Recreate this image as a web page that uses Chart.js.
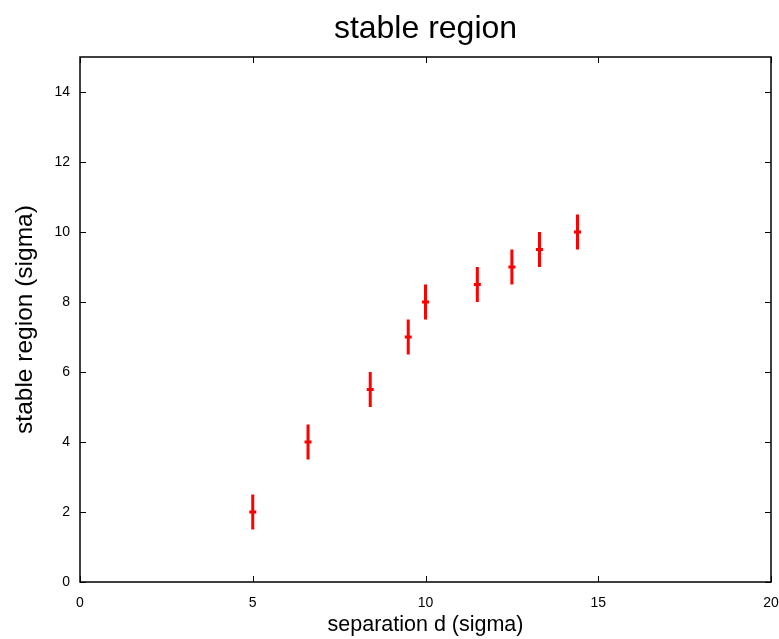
<!DOCTYPE html>
<html>
<head>
<meta charset="utf-8">
<script src="https://cdn.jsdelivr.net/npm/chart.js@4/dist/chart.umd.min.js"></script>
<style>
  html, body { margin: 0; padding: 0; background: #fff; }
  #wrap { width: 779px; height: 639px; }
</style>
</head>
<body>
<div id="wrap"><canvas id="c" width="779" height="639"></canvas></div>
<script>
// Measured stable region versus separation, with symmetric uncertainties
const separation = [5, 6.6, 8.4, 9.5, 10, 11.5, 12.5, 13.3, 14.4];
const stableRegion = [2, 4, 5.5, 7, 8, 8.5, 9, 9.5, 10];
const errorHalf = [0.5, 0.5, 0.5, 0.5, 0.5, 0.5, 0.5, 0.5, 0.5];
const xTicks = [0, 5, 10, 15, 20];
const yTicks = [0, 2, 4, 6, 8, 10, 12, 14];

const FONT = "'Liberation Sans', Arial, Helvetica, sans-serif";
const RED = '#ff0000';

// Vertical error bars, drawn under the point markers
const errorBars = {
  id: 'errorBars',
  beforeDatasetsDraw(chart) {
    const { ctx, scales: { x, y } } = chart;
    ctx.save();
    ctx.strokeStyle = RED;
    ctx.lineWidth = 3;
    for (let i = 0; i < separation.length; i++) {
      const px = x.getPixelForValue(separation[i]);
      const y1 = y.getPixelForValue(stableRegion[i] - errorHalf[i]);
      const y2 = y.getPixelForValue(stableRegion[i] + errorHalf[i]);
      ctx.beginPath();
      ctx.moveTo(px, y1);
      ctx.lineTo(px, y2);
      ctx.stroke();
    }
    ctx.restore();
  }
};

// Box frame with inward tick marks on all four sides
const frame = {
  id: 'frame',
  afterDraw(chart) {
    const { ctx, chartArea: a, scales: { x, y } } = chart;
    const tl = 6;
    ctx.save();
    ctx.strokeStyle = '#000';
    ctx.lineWidth = 1;
    ctx.beginPath();
    xTicks.forEach(v => {
      const px = Math.round(x.getPixelForValue(v)) + 0.5;
      ctx.moveTo(px, a.bottom); ctx.lineTo(px, a.bottom - tl);
      ctx.moveTo(px, a.top); ctx.lineTo(px, a.top + tl);
    });
    yTicks.forEach(v => {
      const py = Math.round(y.getPixelForValue(v)) + 0.5;
      ctx.moveTo(a.left, py); ctx.lineTo(a.left + tl, py);
      ctx.moveTo(a.right, py); ctx.lineTo(a.right - tl, py);
    });
    ctx.stroke();
    ctx.lineWidth = 1.5;
    ctx.strokeRect(a.left, a.top, a.right - a.left, a.bottom - a.top);
    ctx.restore();
  }
};

new Chart(document.getElementById('c'), {
  type: 'scatter',
  data: {
    datasets: [{
      data: separation.map((s, i) => ({ x: s, y: stableRegion[i] })),
      pointStyle: 'line',
      radius: 3.5,
      hoverRadius: 3.5,
      borderColor: RED,
      backgroundColor: RED,
      borderWidth: 3
    }]
  },
  options: {
    responsive: false,
    animation: false,
    events: [],
    layout: { padding: { left: 0, right: 8, top: 0, bottom: 0 } },
    plugins: {
      legend: { display: false },
      tooltip: { enabled: false },
      title: {
        display: true,
        fullSize: false,
        text: 'stable region',
        color: '#000',
        font: { family: FONT, size: 32, weight: 'normal', lineHeight: 1.2 },
        padding: { top: 10, bottom: 8.6 }
      }
    },
    scales: {
      x: {
        type: 'linear',
        min: 0, max: 20,
        afterFit(s) { s.height = 57; s.paddingLeft = 0; s.paddingRight = 0; },
        afterBuildTicks(s) { s.ticks = xTicks.map(v => ({ value: v })); },
        grid: { display: false, drawTicks: false },
        border: { display: false },
        ticks: { color: '#000', padding: 13, maxRotation: 0, autoSkip: false,
                 font: { family: FONT, size: 14 } },
        title: { display: true, text: 'separation d (sigma)', color: '#000',
                 font: { family: FONT, size: 21.5 }, padding: { top: 0, bottom: 1 } }
      },
      y: {
        type: 'linear',
        min: 0, max: 15,
        afterFit(s) { s.width = 80; s.paddingTop = 0; s.paddingBottom = 0; },
        afterBuildTicks(s) { s.ticks = yTicks.map(v => ({ value: v })); },
        grid: { display: false, drawTicks: false },
        border: { display: false },
        ticks: { color: '#000', padding: 10, font: { family: FONT, size: 14 } },
        title: { display: true, text: 'stable region (sigma)', color: '#000',
                 font: { family: FONT, size: 24.5 }, padding: { top: 11, bottom: 0 } }
      }
    }
  },
  plugins: [errorBars, frame]
});
</script>
</body>
</html>
